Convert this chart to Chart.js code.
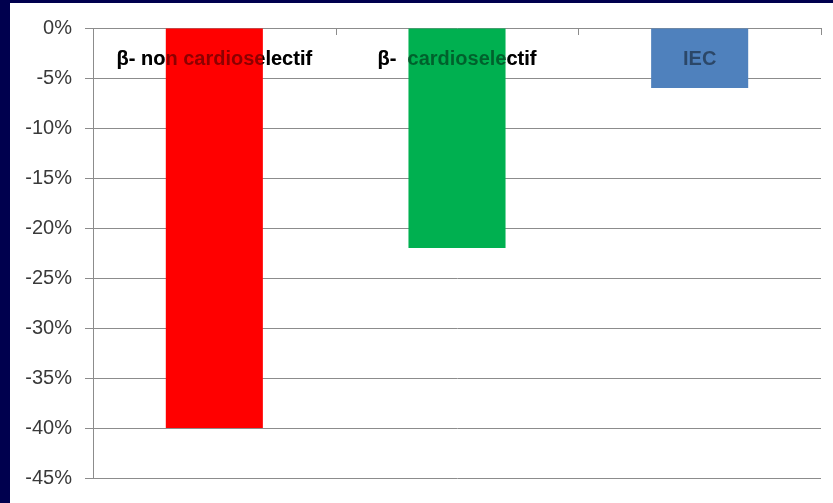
<!DOCTYPE html>
<html>
<head>
<meta charset="utf-8">
<script src="https://cdn.jsdelivr.net/npm/chart.js"></script>
<style>
  html, body { margin: 0; padding: 0; background: #00004e; }
  #wrap { position: absolute; left: 10px; top: 3px; width: 823px; height: 500px; background: #fff; }
</style>
</head>
<body>
<div id="wrap"><canvas id="chart" width="823" height="500"></canvas></div>
<script>
// chart values
const categories = ['β- non cardioselectif', 'β-  cardioselectif', 'IEC'];
const values = [-40, -22, -6];
const barColors = ['#ff0000', '#00b050', '#4f81bd'];
const yTicks = [0, -5, -10, -15, -20, -25, -30, -35, -40, -45];

const gridColor = '#8c8c8c';

// category names sit inside the plot, just under the 0% line
const labelsPlugin = {
  id: 'catLabels',
  drawLabels(chart, alpha) {
    const ctx = chart.ctx;
    const x = chart.scales.x, y = chart.scales.y;
    ctx.save();
    ctx.font = 'bold 20px "Liberation Sans", Arial, sans-serif';
    ctx.fillStyle = 'rgba(0,0,0,' + alpha + ')';
    ctx.textAlign = 'center';
    ctx.textBaseline = 'alphabetic';
    categories.forEach((c, i) => {
      ctx.fillText(c, x.getPixelForValue(i), y.getPixelForValue(-3.7));
    });
    ctx.restore();
  },
  beforeDatasetsDraw(chart) { this.drawLabels(chart, 1); },
  afterDatasetsDraw(chart) {
    this.drawLabels(chart, 0.45);
    // small category tick marks hanging from the 0% line
    const ctx = chart.ctx;
    const x = chart.scales.x, y = chart.scales.y;
    const y0 = y.getPixelForValue(0);
    ctx.save();
    ctx.strokeStyle = gridColor;
    ctx.lineWidth = 1;
    for (let i = 0; i <= categories.length; i++) {
      const px = Math.round(x.getPixelForValue(i - 0.5)) + 0.5;
      ctx.beginPath();
      ctx.moveTo(px, y0);
      ctx.lineTo(px, y0 + 7);
      ctx.stroke();
    }
    ctx.restore();
  }
};

new Chart(document.getElementById('chart'), {
  type: 'bar',
  data: {
    labels: categories,
    datasets: [{
      data: values,
      backgroundColor: barColors,
      borderWidth: 0,
      barPercentage: 0.4,
      categoryPercentage: 1
    }]
  },
  options: {
    responsive: false,
    animation: false,
    layout: { padding: { left: 0, right: 12, top: 25, bottom: 25 } },
    plugins: { legend: { display: false }, tooltip: { enabled: false } },
    scales: {
      x: { display: false },
      y: {
        min: -45,
        max: 0,
        afterFit(scale) { scale.width = 83; },
        afterBuildTicks(scale) { scale.ticks = yTicks.map(v => ({ value: v })); },
        ticks: {
          padding: 13,
          color: '#3a3a3a',
          font: { family: '"Liberation Sans", Arial, sans-serif', size: 20 },
          callback: v => v + '%'
        },
        grid: { color: gridColor, lineWidth: 1, tickLength: 8 },
        border: { display: true, color: gridColor, width: 1 }
      }
    }
  },
  plugins: [labelsPlugin]
});
</script>
</body>
</html>
